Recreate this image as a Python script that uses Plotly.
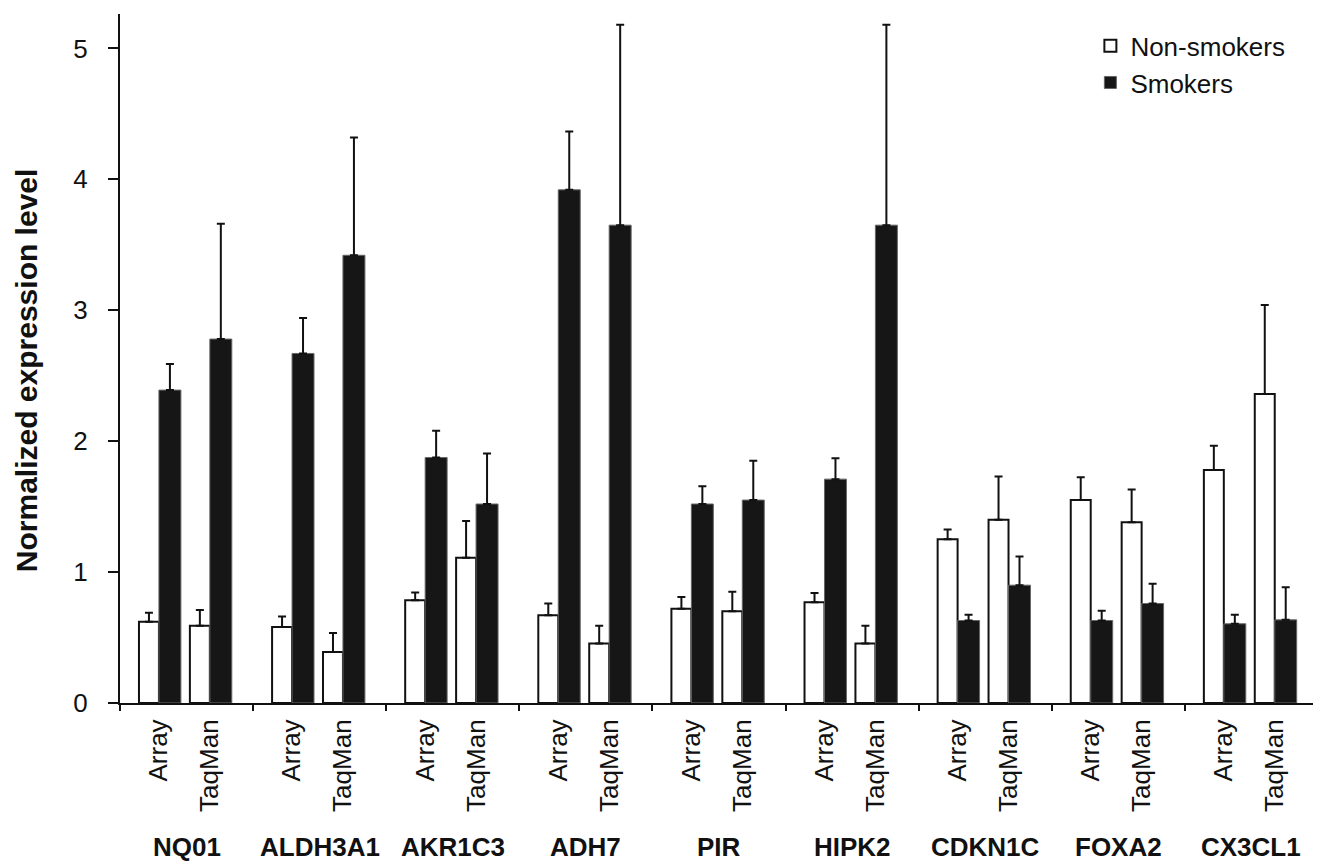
import plotly.graph_objects as go

genes = ["NQ01", "ALDH3A1", "AKR1C3", "ADH7", "PIR", "HIPK2", "CDKN1C", "FOXA2", "CX3CL1"]
methods = ["Array", "TaqMan"]

# values ordered gene by gene: Array, TaqMan
nonsmokers = [0.62, 0.59, 0.58, 0.39, 0.785, 1.11, 0.67, 0.455, 0.72, 0.70,
              0.77, 0.455, 1.25, 1.40, 1.55, 1.38, 1.78, 2.36]
nonsmokers_err = [0.07, 0.12, 0.08, 0.145, 0.06, 0.28, 0.09, 0.135, 0.09, 0.15,
                  0.07, 0.135, 0.075, 0.33, 0.175, 0.25, 0.185, 0.68]
smokers = [2.39, 2.78, 2.67, 3.42, 1.875, 1.52, 3.92, 3.65, 1.52, 1.55,
           1.71, 3.65, 0.63, 0.90, 0.63, 0.76, 0.605, 0.635]
smokers_err = [0.20, 0.88, 0.27, 0.90, 0.205, 0.385, 0.445, 1.53, 0.135, 0.30,
               0.16, 1.53, 0.045, 0.22, 0.075, 0.15, 0.07, 0.25]

method_offset = {"Array": 0.2925, "TaqMan": 0.675}
positions = []
method_labels = []
for g, gene in enumerate(genes):
    for m in methods:
        positions.append(g + method_offset[m])
        method_labels.append(m)

zeros = [0] * len(positions)
FONT = "Liberation Sans, Arial, Helvetica, sans-serif"

fig = go.Figure()
fig.add_trace(go.Bar(
    name="Non-smokers", x=positions, y=nonsmokers,
    width=0.15, offset=-0.15,
    marker=dict(color="white", line=dict(color="#111111", width=2)),
    error_y=dict(type="data", array=nonsmokers_err, arrayminus=zeros, symmetric=False,
                 color="#111111", thickness=2, width=4),
))
fig.add_trace(go.Bar(
    name="Smokers", x=positions, y=smokers,
    width=0.165, offset=0,
    marker=dict(color="#161616", line=dict(color="#666666", width=1)),
    error_y=dict(type="data", array=smokers_err, arrayminus=zeros, symmetric=False,
                 color="#111111", thickness=2, width=4),
))

for g, gene in enumerate(genes):
    fig.add_annotation(x=g + 0.5, xref="x", y=-0.209, yref="paper",
                       text="<b>" + gene + "</b>", showarrow=False,
                       font=dict(family=FONT, size=26, color="#111111"),
                       xanchor="center", yanchor="middle")

fig.add_annotation(x=-0.0785, xref="paper", y=0.483, yref="paper",
                   text="<b>Normalized expression level</b>", textangle=-90,
                   showarrow=False, xanchor="center", yanchor="middle",
                   font=dict(family=FONT, size=30, color="#111111"))

fig.update_layout(
    width=1321, height=862,
    margin=dict(l=112, r=11, t=6, b=167),
    plot_bgcolor="white", paper_bgcolor="white",
    barmode="overlay",
    font=dict(family=FONT, color="#111111"),
    legend=dict(x=0.81, y=0.988, xanchor="left", yanchor="top",
                font=dict(size=26, color="#111111"), bgcolor="rgba(0,0,0,0)",
                itemwidth=30, tracegroupgap=0),
    xaxis=dict(range=[0, 9], tickvals=positions, ticktext=method_labels,
               tickangle=-90, ticks="", showline=True, linecolor="#111111", linewidth=2,
               showgrid=False, zeroline=False, tickfont=dict(size=26, color="#111111"),
               ticklabelstandoff=4,
               minor=dict(tickvals=list(range(10)), ticks="outside", ticklen=6,
                          tickcolor="#111111", tickwidth=1.5, showgrid=False)),
    yaxis=dict(range=[0, 5.263], tickvals=[0, 1, 2, 3, 4, 5], ticks="outside",
               ticklen=10, tickwidth=2, tickcolor="#111111",
               showline=True, linecolor="#111111", linewidth=2, ticklabelstandoff=15,
               showgrid=False, zeroline=False, tickfont=dict(size=26, color="#111111")),
)

fig.write_html("out.html")
